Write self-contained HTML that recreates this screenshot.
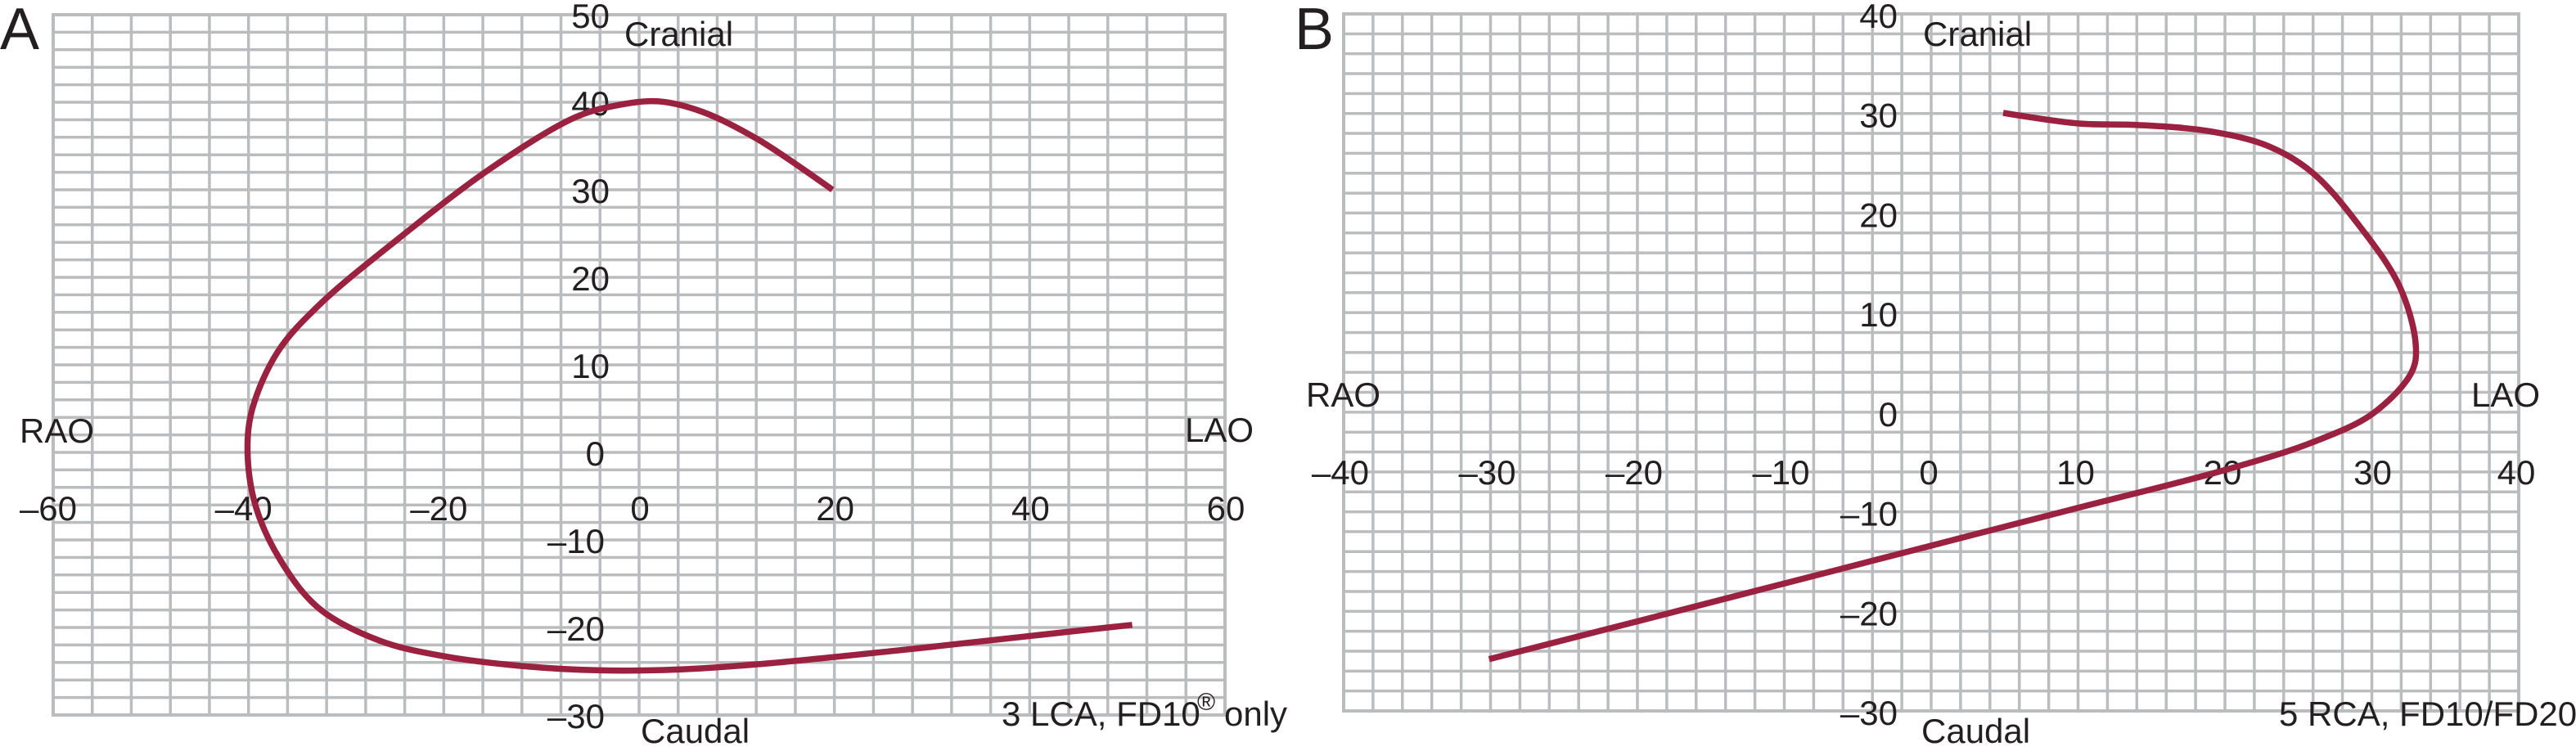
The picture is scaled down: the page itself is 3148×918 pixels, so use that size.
<!DOCTYPE html>
<html lang="en">
<head>
<meta charset="utf-8">
<title>Angiographic projection curves</title>
<style>
html,body{margin:0;padding:0;background:#fff;width:3148px;height:918px;overflow:hidden}
svg{display:block}
text{font-family:"Liberation Sans",Arial,sans-serif;font-size:42px;fill:#231f20}
.panel-letter{font-size:72px}
</style>
</head>
<body>
<svg id="chart" xmlns="http://www.w3.org/2000/svg" width="3148" height="918" viewBox="0 0 3148 918">
  <rect x="0" y="0" width="3148" height="918" fill="#ffffff"/>
  <g id="panel-a"></g>
  <g id="panel-b"></g>
</svg>
<script>
// ---- Panel A data ----
const panelAXTicks = [-60, -40, -20, 0, 20, 40, 60];
const panelAYTicks = [50, 40, 30, 20, 10, 0, -10, -20, -30];
const panelACurveRaoLao = [19.8,12.1,6.5,2,-2.5,-6.5,-15,-25,-32.8,-37,-39.6,-40.1,-39.3,-36.8,-32.8,-26.6,-19.9,-12,-4,4,12.2,26.7,40.2,50.5];
const panelACurveCranCaud = [30,35.8,38.9,40.1,39.6,38.3,32.6,24.1,16.8,11.5,5,0.3,-6,-12.2,-17.8,-21.5,-23.3,-24.4,-24.9,-24.8,-24.2,-22.6,-20.95,-19.7];

// ---- Panel B data ----
const panelBXTicks = [-40, -30, -20, -10, 0, 10, 20, 30, 40];
const panelBYTicks = [40, 30, 20, 10, 0, -10, -20, -30];
const panelBCurveRaoLao = [4.9,10,14,19,23,26,29,31.9,33,32.7,30.1,26,20,10,0,-10,-20,-30.1];
const panelBCurveCranCaud = [30.06,29,28.85,28.2,26.7,24,19,12.6,6.6,4,-0.1,-3,-5.8,-9.6,-13.4,-17.2,-21,-24.8];

const SVG_NS = 'http://www.w3.org/2000/svg';
const GRID = '#bbbcbe';
const CURVE = '#9a2140';

// Axis functions
function linear(d0, d1, r0, r1) {
  return v => r0 + (v - d0) * (r1 - r0) / (d1 - d0);
}
const xA = linear(-60, 60, 65, 1497);
const yA = linear(-30, 50, 874, 18);
const xB = linear(-40, 40, 1642, 3078);
const yB = linear(-30, 40, 869, 17);

function label(v) {
  return v < 0 ? '\u2013' + Math.abs(v) : String(v);
}

// Centripetal Catmull-Rom through the data points
function smoothPath(xs, ys, sx, sy) {
  const p = xs.map((x, i) => [sx(x), sy(ys[i])]);
  let d = 'M' + p[0][0].toFixed(1) + ' ' + p[0][1].toFixed(1);
  const dist = (m, n) => Math.hypot(m[0] - n[0], m[1] - n[1]);
  for (let i = 0; i < p.length - 1; i++) {
    const p0 = p[Math.max(i - 1, 0)], p1 = p[i], p2 = p[i + 1], p3 = p[Math.min(i + 2, p.length - 1)];
    const d1sq = dist(p0, p1), d2sq = dist(p1, p2), d3sq = dist(p2, p3);
    const d1 = Math.sqrt(d1sq), d2 = Math.sqrt(d2sq), d3 = Math.sqrt(d3sq);
    const c1 = [0, 1].map(k => d1 === 0 ? p1[k] :
      (d1sq * p2[k] - d2sq * p0[k] + (2 * d1sq + 3 * d1 * d2 + d2sq) * p1[k]) / (3 * d1 * (d1 + d2)));
    const c2 = [0, 1].map(k => d3 === 0 ? p2[k] :
      (d3sq * p1[k] - d2sq * p3[k] + (2 * d3sq + 3 * d3 * d2 + d2sq) * p2[k]) / (3 * d3 * (d3 + d2)));
    d += 'C' + c1[0].toFixed(1) + ' ' + c1[1].toFixed(1) + ' ' + c2[0].toFixed(1) + ' ' + c2[1].toFixed(1) + ' ' + p2[0].toFixed(1) + ' ' + p2[1].toFixed(1);
  }
  return d;
}

function gridLine(parent, x1, y1, x2, y2, width) {
  const el = document.createElementNS(SVG_NS, 'line');
  el.setAttribute('x1', x1);
  el.setAttribute('y1', y1);
  el.setAttribute('x2', x2);
  el.setAttribute('y2', y2);
  el.setAttribute('stroke', GRID);
  el.setAttribute('stroke-width', width);
  
  
  parent.appendChild(el);
}

function drawGrid(parent, sx, sy, xMin, xMax, xStep, yMin, yMax, yStep) {
  for (let v = xMin; v <= xMax; v += xStep) {
    const edge = v === xMin || v === xMax;
    gridLine(parent, sx(v), sy(yMax) - 2, sx(v), sy(yMin) + 2, edge ? 4 : 3.5);
  }
  for (let v = yMin; v <= yMax; v += yStep) {
    const edge = v === yMin || v === yMax;
    gridLine(parent, sx(xMin) - 2, sy(v), sx(xMax) + 2, sy(v), edge ? 4 : 3.5);
  }
}

function addText(parent, str, x, y, anchor, name) {
  const el = document.createElementNS(SVG_NS, 'text');
  el.setAttribute('x', x);
  el.setAttribute('y', y);
  el.setAttribute('text-anchor', anchor);
  
  
  el.textContent = str;
  parent.appendChild(el);
  return el;
}

function drawCurve(parent, xs, ys, sx, sy, name) {
  const el = document.createElementNS(SVG_NS, 'path');
  el.setAttribute('d', smoothPath(xs, ys, sx, sy));
  el.setAttribute('fill', 'none');
  el.setAttribute('stroke', CURVE);
  el.setAttribute('stroke-width', 7.5);
  el.setAttribute('stroke-linejoin', 'round');
  
  
  parent.appendChild(el);
}

// ---- Panel A ----
const a = document.getElementById('panel-a');
drawGrid(a, xA, yA, -60, 60, 4, -30, 50, 2);
panelAXTicks.forEach(v => addText(a, label(v), xA(v) + (v < 0 ? -6 : 1), 636, 'middle', 'x-axis-tick-label'));
panelAYTicks.forEach(v => addText(a, label(v), v <= 0 ? 739 : 745, yA(v) + 16, 'end', 'y-axis-tick-label'));
addText(a, 'A', 0, 60, 'start', 'panel-a-letter').setAttribute('class', 'panel-letter');
addText(a, 'Cranial', 763, 56, 'start', 'cranial-label');
addText(a, 'Caudal', 783, 908, 'start', 'caudal-label');
addText(a, 'RAO', 24, 541, 'start', 'rao-label');
addText(a, 'LAO', 1448, 540, 'start', 'lao-label');
addText(a, '3 LCA, FD10', 1224, 887, 'start', 'view-caption');
const regMark = addText(a, '\u00AE', 1463, 868, 'start', 'registered-mark');
regMark.setAttribute('style', 'font-size:30px');
addText(a, 'only', 1496, 887, 'start', 'view-caption-suffix');
drawCurve(a, panelACurveRaoLao, panelACurveCranCaud, xA, yA, 'panel-a-curve');

// ---- Panel B ----
const b = document.getElementById('panel-b');
drawGrid(b, xB, yB, -40, 40, 2, -30, 40, 2);
panelBXTicks.forEach(v => addText(b, label(v), xB(v) + (v < 0 ? -4 : (v === 30 ? 1 : -3)), 592, 'middle', 'x-axis-tick-label'));
panelBYTicks.forEach(v => addText(b, label(v), 2319, yB(v) + 17, 'end', 'y-axis-tick-label'));
addText(b, 'B', 1582, 60, 'start', 'panel-b-letter').setAttribute('class', 'panel-letter');
addText(b, 'Cranial', 2350, 56, 'start', 'cranial-label');
addText(b, 'Caudal', 2348, 908, 'start', 'caudal-label');
addText(b, 'RAO', 1596, 497, 'start', 'rao-label');
addText(b, 'LAO', 3020, 497, 'start', 'lao-label');
addText(b, '5 RCA, FD10/FD20', 2785, 887, 'start', 'view-caption');
drawCurve(b, panelBCurveRaoLao, panelBCurveCranCaud, xB, yB, 'panel-b-curve');
</script>
</body>
</html>
